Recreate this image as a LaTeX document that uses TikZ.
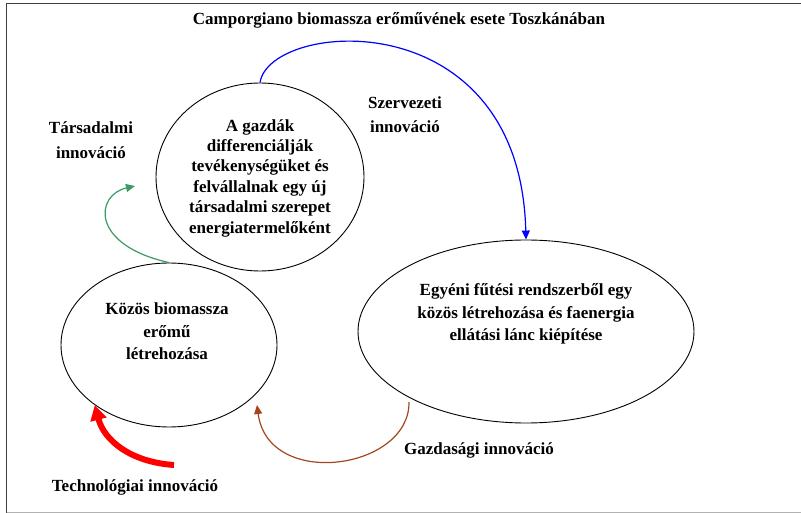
\documentclass[tikz,border=0pt]{standalone}
\usepackage{fontspec}
\setmainfont{Liberation Serif}
\usetikzlibrary{arrows.meta,shapes.geometric}
\definecolor{tgreen}{HTML}{3C9A64}
\definecolor{tbrown}{HTML}{A5461E}
\definecolor{tblue}{HTML}{0000FF}
\definecolor{tred}{HTML}{FF0000}
\tikzset{
  oval/.style={draw=black, line width=0.9pt, ellipse, inner sep=0pt},
  txt/.style={font=\bfseries\fontsize{17}{21}\selectfont, align=center, inner sep=0pt, text=black},
  thinarrow/.style={line width=1.2pt},
}
\begin{document}
\begin{tikzpicture}[x=1pt,y=-1pt]
\useasboundingbox (0,0) rectangle (801,513);
% frame
\draw[line width=1.3pt, black!75] (6.5,513) -- (6.5,3.5) -- (801,3.5);
\draw[line width=1pt, black!30] (6.5,512) -- (801,512);

% ellipses
\node[oval, minimum width=208pt, minimum height=188pt] (top) at (260,177) {};
\node[oval, minimum width=216pt, minimum height=164pt] (left) at (169,345) {};
\node[oval, minimum width=336pt, minimum height=183pt] (right) at (526,331.5) {};

% texts
\node[txt] (title) at (399,20) {Camporgiano biomassza erőművének esete Toszkánában};
\node[txt, font=\bfseries\fontsize{17}{20.4}\selectfont] (toptxt) at (260,178) {A gazdák\\differenciálják\\tevékenységüket és\\felvállalnak egy új\\társadalmi szerepet\\energiatermelőként};
\node[txt, font=\bfseries\fontsize{17}{22.5}\selectfont] (lefttxt) at (167,331.5) {Közös biomassza\\erőmű\\létrehozása};
\node[txt, font=\bfseries\fontsize{17}{22.5}\selectfont] (righttxt) at (526,314) {Egyéni fűtési rendszerből egy\\közös létrehozása és faenergia\\ellátási lánc kiépítése};
\node[txt, font=\bfseries\fontsize{17}{25}\selectfont] (tars) at (91,140.5) {Társadalmi\\innováció};
\node[txt, font=\bfseries\fontsize{17}{24}\selectfont] (szerv) at (405,115) {Szervezeti\\innováció};
\node[txt] (gazd) at (479,450) {Gazdasági innováció};
\node[txt] (tech) at (135,487) {Technológiai innováció};

% free ends
\coordinate (greentip) at (135,186);
\coordinate (redstart) at (174,465);
\coordinate (brownstart) at (409,402);
\coordinate (browntip) at (257,405);

% connectors
\draw[thinarrow, tblue, -{Triangle[length=9pt,width=8pt]}]
  (top.north) .. controls (270,20) and (520,0) .. (right.north);
\draw[thinarrow, tgreen, -{Triangle[length=9pt,width=8pt]}]
  (left.north) .. controls (90,245) and (95,195) .. (greentip);
\draw[line width=6pt, tred, -{Triangle[length=15pt,width=16pt]}]
  (redstart) .. controls (130,462) and (104,440) .. (left.219);
\draw[thinarrow, tbrown, -{Triangle[length=9pt,width=8pt]}]
  (brownstart) .. controls (410,470) and (268,490) .. (browntip);
\end{tikzpicture}
\end{document}
